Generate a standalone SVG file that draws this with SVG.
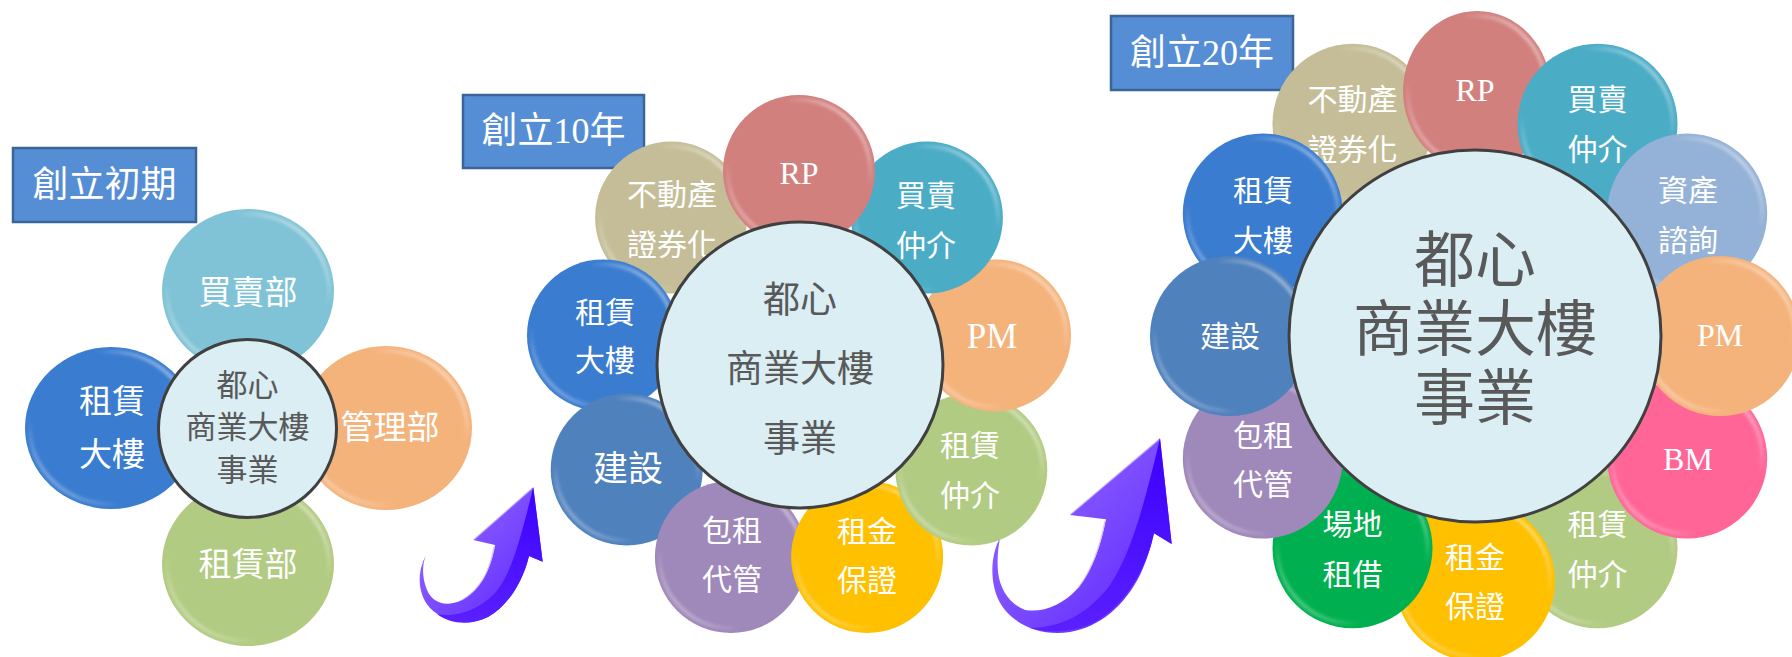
<svg xmlns="http://www.w3.org/2000/svg" width="1792" height="657" viewBox="0 0 1792 657">
<style>
.bg{fill:#fff}
.title rect{fill:#558ED5;stroke:#3B6598;stroke-width:2.5}
.tt{font-family:"Liberation Serif","Noto Sans CJK TC",sans-serif;font-size:36px;fill:#fff;text-anchor:middle}
.pt{font-family:"Liberation Serif","Noto Sans CJK TC",sans-serif;font-size:30px;fill:#fff;text-anchor:middle}
.lt{font-size:32px}
.ct{font-family:"Liberation Sans","Noto Sans CJK TC",sans-serif;fill:#595959;text-anchor:middle}
.rim{fill:none;stroke:url(#rim);stroke-width:4;filter:url(#soft)}
.hub{fill:#DAEEF3;stroke:#404040;stroke-width:3}
.tan{fill:#C4BD97}.rp{fill:#D2807E}.teal{fill:#4BACC6}.lteal{fill:#80C3D6}.steel{fill:#94B2D7}
.org{fill:#F5B37C}.pink{fill:#FF6697}.grn{fill:#B2CB82}.gold{fill:#FFC000}.dgrn{fill:#00B050}
.pur{fill:#9F88BA}.blu{fill:#4F81BD}.bblu{fill:#3A7CD0}
.aface{fill:url(#af)}.adark{fill:url(#ad)}.ahl{fill:none;stroke:#C9B5FF;stroke-width:1.2;stroke-opacity:.8}
</style>
<defs>
<linearGradient id="rim" x1="1" y1="0" x2="0" y2="1">
<stop offset="0" stop-color="#fff" stop-opacity=".75"/>
<stop offset=".3" stop-color="#fff" stop-opacity="0"/>
<stop offset=".72" stop-color="#fff" stop-opacity="0"/>
<stop offset="1" stop-color="#fff" stop-opacity=".6"/>
</linearGradient>
<filter id="soft" x="-10%" y="-10%" width="120%" height="120%"><feGaussianBlur stdDeviation="1.6"/></filter>
<linearGradient id="af" x1="0" y1="0" x2="1" y2="1">
<stop offset="0" stop-color="#9C70FF"/>
<stop offset=".6" stop-color="#7443FF"/>
<stop offset="1" stop-color="#5B1FFF"/>
</linearGradient>
<linearGradient id="ad" x1="0" y1="0" x2="0" y2="1">
<stop offset="0" stop-color="#3A00FF"/>
<stop offset="1" stop-color="#5A20FF"/>
</linearGradient>
</defs>
<rect class="bg" x="0" y="0" width="1792" height="657"/>

<!-- connectors: curved arrows -->
<g id="connectors">
<g id="arrow1">
<path class="aface" d="M425.7,556 C418,570 416,592 430,608 C444,622 468,627 488,617 C506,607 522,585 529,556 L542.7,561.7 L533.3,487.3 L473.3,540 L495,545 C491,570 480,590 462,600 C445,608 432,602 427,590 C422,578 422,565 425.7,556 Z"/>
<path class="adark" d="M533.3,487.3 L542.7,561.7 L529,556 C522,585 506,607 488,617 C470,626 450,624 437,614 C456,618 478,610 494,594 C510,577 519,545 533.3,487.3 Z"/>
<path class="ahl" d="M474,539.5 L532,488.5 M494,547 C490,570 480,590 462,600"/>
</g>
<g id="arrow2">
<path class="aface" d="M1000,538 C990,555 988,590 1005,610 C1020,628 1045,636 1070,632 C1100,627 1125,605 1140,575 C1147,560 1151,547 1154,533.3 L1171.7,544 L1160,438.3 L1070,515 L1106,519.3 C1101,545 1093,570 1078,588 C1063,605 1043,613 1025,610 C1010,604 1000,590 998,572 C997,560 998,548 1000,538 Z"/>
<path class="adark" d="M1160,438.3 L1171.7,544 L1154,533.3 C1146,570 1125,605 1095,622 C1075,632 1050,634 1030,628 C1062,628 1090,612 1110,585 C1130,555 1143,510 1160,438.3 Z"/>
<path class="ahl" d="M1071,514 L1158.5,440 M1105,521 C1100,546 1092,570 1078,588"/>
</g>
</g>

<!-- Stage 1 -->
<g id="s1-title" class="title"><rect x="13" y="148" width="183" height="74"/><text class="tt" x="104.5" y="197">創立初期</text></g>
<g id="s1-sales"><ellipse class="lteal" cx="248" cy="291" rx="86" ry="82"/><ellipse class="rim" cx="248" cy="291" rx="81" ry="77"/><text class="pt" style="font-size:33px" x="248" y="303.5">買賣部</text></g>
<g id="s1-lease-dept"><ellipse class="grn" cx="248" cy="564" rx="86" ry="82"/><ellipse class="rim" cx="248" cy="564" rx="81" ry="77"/><text class="pt" style="font-size:33px" x="248" y="576">租賃部</text></g>
<g id="s1-building"><ellipse class="bblu" cx="111" cy="428" rx="86" ry="81"/><ellipse class="rim" cx="111" cy="428" rx="81" ry="76"/><text class="pt" style="font-size:33px" x="112" y="412.5">租賃<tspan x="112" y="466">大樓</tspan></text></g>
<g id="s1-mgmt"><ellipse class="org" cx="386" cy="428" rx="86" ry="82"/><ellipse class="rim" cx="386" cy="428" rx="81" ry="77"/><text class="pt" style="font-size:33px" x="390" y="439">管理部</text></g>
<g id="s1-hub"><circle class="hub" cx="247.5" cy="428.5" r="89"/><text class="ct" style="font-size:31px" x="247.5" y="395.8">都心<tspan x="247.5" y="438.3">商業大樓</tspan><tspan x="247.5" y="481.3">事業</tspan></text></g>

<!-- Stage 2 -->
<g id="s2-title" class="title"><rect x="463" y="95" width="181" height="73"/><text class="tt" x="553.5" y="142.7">創立10年</text></g>
<g id="s2-securitize"><circle class="tan" cx="671.1" cy="217.6" r="76"/><circle class="rim" cx="671.1" cy="217.6" r="71"/><text class="pt" x="672" y="205.4">不動產<tspan x="672" y="254.9">證券化</tspan></text></g>
<g id="s2-building"><circle class="bblu" cx="603" cy="335.4" r="76"/><circle class="rim" cx="603" cy="335.4" r="71"/><text class="pt" x="605" y="322.9">租賃<tspan x="605" y="371.4">大樓</tspan></text></g>
<g id="s2-construct"><circle class="blu" cx="626.7" cy="469.5" r="76"/><circle class="rim" cx="626.7" cy="469.5" r="71"/><text class="pt" style="font-size:35px" x="628" y="481.3">建設</text></g>
<g id="s2-sublease"><circle class="pur" cx="730.9" cy="557" r="76"/><circle class="rim" cx="730.9" cy="557" r="71"/><text class="pt" x="732" y="541.4">包租<tspan x="732" y="590.4">代管</tspan></text></g>
<g id="s2-guarantee"><circle class="gold" cx="867.1" cy="557" r="76"/><circle class="rim" cx="867.1" cy="557" r="71"/><text class="pt" x="867" y="541.9">租金<tspan x="867" y="591.4">保證</tspan></text></g>
<g id="s2-lease-broker"><circle class="grn" cx="971.3" cy="469.5" r="76"/><circle class="rim" cx="971.3" cy="469.5" r="71"/><text class="pt" x="970" y="455.9">租賃<tspan x="970" y="505.9">仲介</tspan></text></g>
<g id="s2-pm"><circle class="org" cx="995" cy="335.4" r="76"/><circle class="rim" cx="995" cy="335.4" r="71"/><text class="pt" style="font-size:35px" x="992" y="348">PM</text></g>
<g id="s2-sales-broker"><circle class="teal" cx="926.9" cy="217.6" r="76"/><circle class="rim" cx="926.9" cy="217.6" r="71"/><text class="pt" x="926" y="205.9">買賣<tspan x="926" y="256.4">仲介</tspan></text></g>
<g id="s2-rp"><circle class="rp" cx="799" cy="171" r="76"/><circle class="rim" cx="799" cy="171" r="71"/><text class="pt lt" x="799" y="183.5">RP</text></g>
<g id="s2-hub"><circle class="hub" cx="800" cy="365" r="143"/><text class="ct" style="font-size:37px" x="800" y="313">都心<tspan x="800" y="381.5">商業大樓</tspan><tspan x="800" y="452">事業</tspan></text></g>

<!-- Stage 3 -->
<g id="s3-title" class="title"><rect x="1111" y="16" width="182" height="74"/><text class="tt" x="1202" y="65.2">創立20年</text></g>
<g id="s3-securitize"><circle class="tan" cx="1352.5" cy="123.8" r="80"/><circle class="rim" cx="1352.5" cy="123.8" r="75"/><text class="pt" x="1352.5" y="110.2">不動產<tspan x="1352.5" y="160.2">證券化</tspan></text></g>
<g id="s3-rp"><ellipse class="rp" cx="1477" cy="91" rx="74" ry="80"/><ellipse class="rim" cx="1477" cy="91" rx="69" ry="75"/><text class="pt lt" x="1475" y="100.5">RP</text></g>
<g id="s3-sales-broker"><circle class="teal" cx="1597.5" cy="123.8" r="80"/><circle class="rim" cx="1597.5" cy="123.8" r="75"/><text class="pt" x="1597.5" y="110.2">買賣<tspan x="1597.5" y="160.2">仲介</tspan></text></g>
<g id="s3-consult"><circle class="steel" cx="1687.2" cy="213.5" r="80"/><circle class="rim" cx="1687.2" cy="213.5" r="75"/><text class="pt" x="1688" y="201.4">資產<tspan x="1688" y="250.9">諮詢</tspan></text></g>
<g id="s3-lease-broker"><circle class="grn" cx="1597.5" cy="548.2" r="80"/><circle class="rim" cx="1597.5" cy="548.2" r="75"/><text class="pt" x="1597.5" y="534.6">租賃<tspan x="1597.5" y="584.6">仲介</tspan></text></g>
<g id="s3-bm"><circle class="pink" cx="1687.2" cy="458.5" r="80"/><circle class="rim" cx="1687.2" cy="458.5" r="75"/><text class="pt lt" x="1688" y="469.5">BM</text></g>
<g id="s3-pm"><circle class="org" cx="1720" cy="336" r="80"/><circle class="rim" cx="1720" cy="336" r="75"/><text class="pt lt" x="1720" y="345.5">PM</text></g>
<g id="s3-guarantee"><circle class="gold" cx="1475" cy="581" r="80"/><circle class="rim" cx="1475" cy="581" r="75"/><text class="pt" x="1475" y="568.4">租金<tspan x="1475" y="617.4">保證</tspan></text></g>
<g id="s3-venue"><circle class="dgrn" cx="1352.5" cy="548.2" r="80"/><circle class="rim" cx="1352.5" cy="548.2" r="75"/><text class="pt" x="1352.5" y="534.6">場地<tspan x="1352.5" y="584.6">租借</tspan></text></g>
<g id="s3-sublease"><circle class="pur" cx="1262.8" cy="458.5" r="80"/><circle class="rim" cx="1262.8" cy="458.5" r="75"/><text class="pt" x="1263" y="445.9">包租<tspan x="1263" y="494.9">代管</tspan></text></g>
<g id="s3-building"><circle class="bblu" cx="1262.8" cy="213.5" r="80"/><circle class="rim" cx="1262.8" cy="213.5" r="75"/><text class="pt" x="1263" y="201.4">租賃<tspan x="1263" y="250.9">大樓</tspan></text></g>
<g id="s3-construct"><circle class="blu" cx="1230" cy="336" r="80"/><circle class="rim" cx="1230" cy="336" r="75"/><text class="pt" x="1230" y="347.4">建設</text></g>
<g id="s3-hub"><circle class="hub" cx="1475" cy="336" r="186"/><text class="ct" style="font-size:61px" x="1475" y="282.2">都心<tspan x="1475" y="351.2">商業大樓</tspan><tspan x="1475" y="420.2">事業</tspan></text></g>
</svg>
